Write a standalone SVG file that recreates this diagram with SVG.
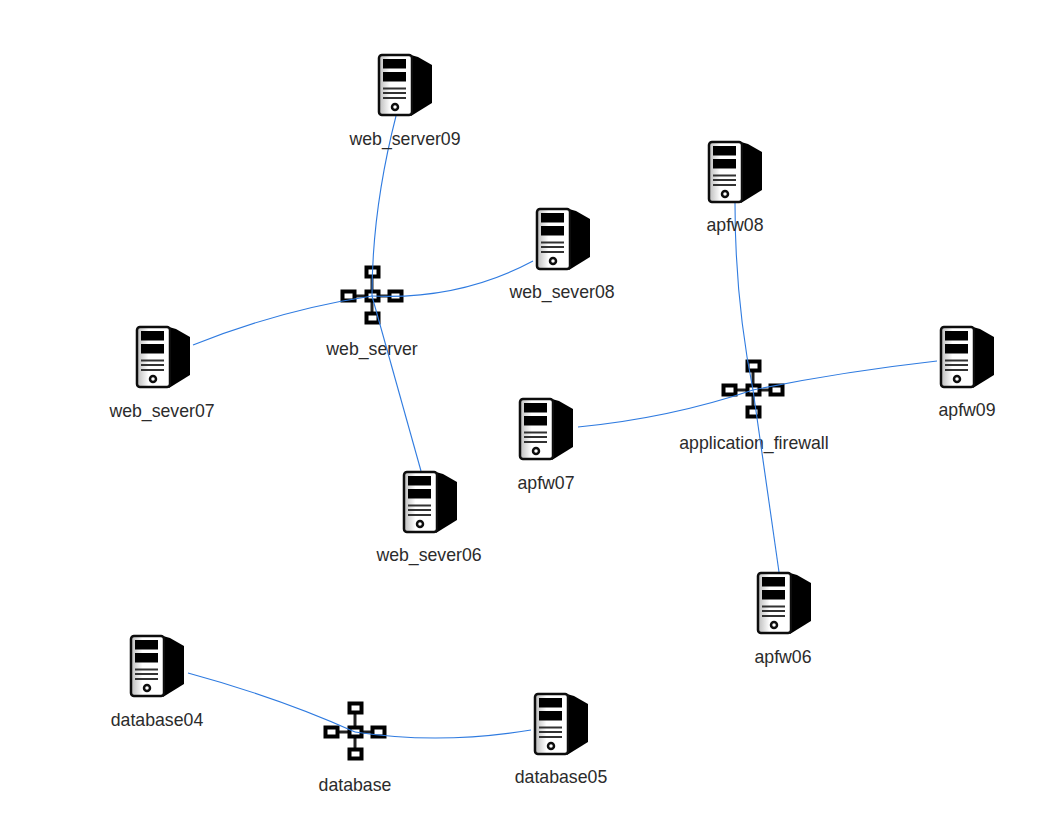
<svg xmlns="http://www.w3.org/2000/svg" width="1062" height="834" viewBox="0 0 1062 834">
<style>
text{font-family:"Liberation Sans",Arial,sans-serif;font-size:17.7px;fill:#2b2b2b;text-anchor:middle}
.c{fill:none;stroke:#2f7be0;stroke-width:1.1}
.sw{fill:#fff;stroke:#000;stroke-width:4}
</style>
<defs>
<filter id="soft" x="-10%" y="-10%" width="120%" height="120%"><feGaussianBlur stdDeviation="0.6"/></filter>
<linearGradient id="panel" x1="0" x2="1" y1="0" y2="0"><stop offset="0" stop-color="#bbb"/><stop offset="0.35" stop-color="#fff"/></linearGradient>
<g id="server" filter="url(#soft)">
<polygon points="33,1 40,3 54,11 54,49 33,62" fill="#000"/>
<rect x="1" y="1" width="33" height="60" rx="3" fill="url(#panel)" stroke="#111" stroke-width="2.500"/>
<rect x="5" y="5" width="23" height="9.500" fill="#000"/>
<rect x="5" y="18" width="23" height="9.500" fill="#000"/>
<path d="M5 34.500H28M5 39H28M5 44H28" stroke="#333" stroke-width="2" fill="none"/>
<circle cx="17" cy="53" r="3" fill="#fff" stroke="#111" stroke-width="2.500"/>
</g>
<g id="switch" filter="url(#soft)">
<path d="M0 -24V22M-24 0H23" stroke="#222" stroke-width="3" fill="none"/>
<rect class="sw" x="-5.500" y="-28.500" width="12" height="9"/>
<rect class="sw" x="-29.500" y="-4.500" width="12" height="9"/>
<rect class="sw" x="-5.500" y="-4.500" width="12" height="9"/>
<rect class="sw" x="17.500" y="-4.500" width="12" height="9"/>
<rect class="sw" x="-5.500" y="17.500" width="12" height="9"/>
</g>
</defs>
<rect width="1062" height="834" fill="#fff"/>
<g id="nodes-back">
<g id="web_server"><use href="#switch" x="372" y="296"/><text x="372" y="355">web_server</text></g>
<g id="application_firewall"><use href="#switch" x="753" y="390"/><text x="754" y="449">application_firewall</text></g>
<g id="database"><use href="#switch" x="355" y="732"/><text x="355" y="791">database</text></g>
</g>
<g id="connectors">
<path class="c" d="M396 116Q372 210 372 296"/>
<path class="c" d="M533 261Q460 300 372 296"/>
<path class="c" d="M193 345Q280 310 372 296"/>
<path class="c" d="M421 471L372 296"/>
<path class="c" d="M735 203Q735 300 753 390"/>
<path class="c" d="M937 361Q840 372 753 390"/>
<path class="c" d="M578 427Q670 418 753 390"/>
<path class="c" d="M779 572L753 390"/>
<path class="c" d="M188 673Q280 698 355 732"/>
<path class="c" d="M531 730Q440 745 355 732"/>
</g>
<g id="web_server09"><use href="#server" x="378" y="54"/><text x="405" y="145">web_server09</text></g>
<g id="web_sever08"><use href="#server" x="536" y="208"/><text x="562" y="298">web_sever08</text></g>
<g id="web_sever07"><use href="#server" x="136" y="326"/><text x="162" y="417">web_sever07</text></g>
<g id="web_sever06"><use href="#server" x="403" y="471"/><text x="429" y="561">web_sever06</text></g>
<g id="apfw08"><use href="#server" x="708" y="141"/><text x="735" y="231">apfw08</text></g>
<g id="apfw09"><use href="#server" x="940" y="326"/><text x="967" y="416">apfw09</text></g>
<g id="apfw07"><use href="#server" x="519" y="398"/><text x="546" y="489">apfw07</text></g>
<g id="apfw06"><use href="#server" x="757" y="572"/><text x="783" y="663">apfw06</text></g>
<g id="database04"><use href="#server" x="130" y="635"/><text x="157" y="726">database04</text></g>
<g id="database05"><use href="#server" x="534" y="693"/><text x="561" y="783">database05</text></g>
</svg>
